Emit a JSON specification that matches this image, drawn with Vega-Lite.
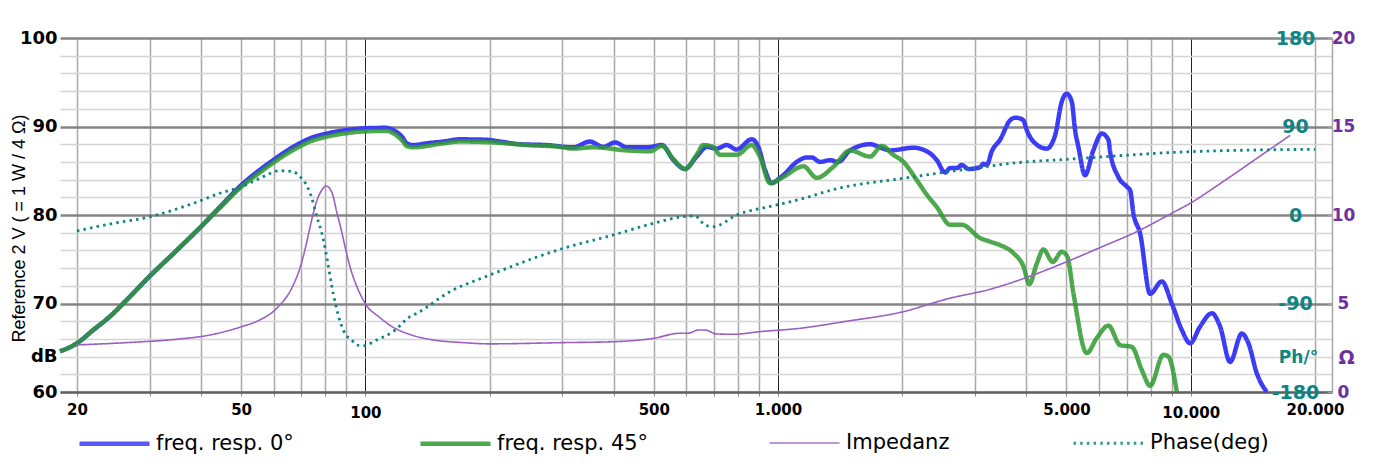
{
  "$schema": "https://vega.github.io/schema/vega-lite/v6.json",
  "width": 1272,
  "height": 354,
  "autosize": {"type": "none"},
  "padding": {"left": 60, "top": 38, "right": 49, "bottom": 74},
  "background": "white",
  "config": {"view": {"stroke": null}, "font": "DejaVu Sans"},
  "datasets": {
    "fr0": [
      {"f": 18.2, "v": 64.6}, {"f": 20, "v": 65.5}, {"f": 21.9, "v": 67.0}, {"f": 24, "v": 68.5},
      {"f": 26.4, "v": 70.4}, {"f": 29.9, "v": 73.0}, {"f": 34.9, "v": 76.0}, {"f": 40, "v": 78.7},
      {"f": 44.4, "v": 80.9}, {"f": 50.1, "v": 83.4}, {"f": 55.5, "v": 85.1}, {"f": 59.8, "v": 86.2},
      {"f": 66.9, "v": 87.7}, {"f": 74.8, "v": 88.8}, {"f": 80.6, "v": 89.2}, {"f": 90.1, "v": 89.6},
      {"f": 99.9, "v": 89.8}, {"f": 112.6, "v": 89.85}, {"f": 116.7, "v": 89.6}, {"f": 123.4, "v": 88.7},
      {"f": 125.9, "v": 88.1}, {"f": 130.7, "v": 87.9}, {"f": 140.8, "v": 88.1}, {"f": 154.5, "v": 88.3},
      {"f": 169.6, "v": 88.55}, {"f": 196.8, "v": 88.5}, {"f": 212, "v": 88.3}, {"f": 237, "v": 88.0},
      {"f": 275, "v": 87.9}, {"f": 319, "v": 87.65}, {"f": 350, "v": 88.3}, {"f": 377, "v": 87.7},
      {"f": 403, "v": 88.2}, {"f": 430, "v": 87.65}, {"f": 481, "v": 87.65}, {"f": 523, "v": 87.9},
      {"f": 558, "v": 86.2}, {"f": 595, "v": 85.2}, {"f": 635, "v": 86.6}, {"f": 672, "v": 87.7},
      {"f": 710, "v": 87.5}, {"f": 751, "v": 87.9}, {"f": 794, "v": 87.4}, {"f": 863, "v": 88.55},
      {"f": 896, "v": 87.7}, {"f": 930, "v": 85.1}, {"f": 965, "v": 83.6}, {"f": 1011, "v": 84.2},
      {"f": 1030, "v": 84.5}, {"f": 1110, "v": 86.0}, {"f": 1174, "v": 86.5}, {"f": 1207, "v": 86.5},
      {"f": 1264, "v": 86.0}, {"f": 1337, "v": 86.2}, {"f": 1400, "v": 86.0}, {"f": 1495, "v": 87.3},
      {"f": 1671, "v": 88.0}, {"f": 1800, "v": 87.5}, {"f": 1868, "v": 87.3}, {"f": 2128, "v": 87.6},
      {"f": 2293, "v": 87.2}, {"f": 2425, "v": 86.2}, {"f": 2540, "v": 84.8}, {"f": 2612, "v": 85.3},
      {"f": 2712, "v": 85.3}, {"f": 2788, "v": 85.65}, {"f": 2892, "v": 85.2}, {"f": 3088, "v": 85.4},
      {"f": 3146, "v": 85.8}, {"f": 3206, "v": 85.65}, {"f": 3296, "v": 87.2}, {"f": 3452, "v": 88.5},
      {"f": 3650, "v": 90.7}, {"f": 3754, "v": 91.0}, {"f": 3860, "v": 90.9}, {"f": 3932, "v": 90.7},
      {"f": 4006, "v": 89.6}, {"f": 4156, "v": 88.3}, {"f": 4480, "v": 87.5}, {"f": 4692, "v": 89.0},
      {"f": 4870, "v": 92.8}, {"f": 5008, "v": 93.7}, {"f": 5150, "v": 92.8}, {"f": 5246, "v": 89.6},
      {"f": 5344, "v": 87.7}, {"f": 5546, "v": 84.5}, {"f": 5808, "v": 87.3}, {"f": 6088, "v": 89.2},
      {"f": 6318, "v": 88.5}, {"f": 6378, "v": 87.2}, {"f": 6680, "v": 84.3}, {"f": 7002, "v": 83.2},
      {"f": 7132, "v": 82.8}, {"f": 7264, "v": 80.2}, {"f": 7542, "v": 77.9}, {"f": 7974, "v": 71.1},
      {"f": 8512, "v": 72.5}, {"f": 9000, "v": 70.0}, {"f": 9518, "v": 67.0}, {"f": 9968, "v": 65.5},
      {"f": 10540, "v": 67.4}, {"f": 11250, "v": 68.9}, {"f": 11782, "v": 67.4}, {"f": 12458, "v": 63.4},
      {"f": 13302, "v": 66.6}, {"f": 13802, "v": 65.5}, {"f": 14464, "v": 62.1}, {"f": 15292, "v": 60.0}
    ],
    "fr45": [
      {"f": 18.2, "v": 64.6}, {"f": 20, "v": 65.5}, {"f": 21.9, "v": 67.0}, {"f": 24, "v": 68.5},
      {"f": 26.4, "v": 70.4}, {"f": 29.9, "v": 73.0}, {"f": 34.9, "v": 76.0}, {"f": 40, "v": 78.7},
      {"f": 44.4, "v": 80.8}, {"f": 50.1, "v": 83.2}, {"f": 55.5, "v": 84.8}, {"f": 59.8, "v": 85.9},
      {"f": 66.9, "v": 87.35}, {"f": 74.8, "v": 88.45}, {"f": 80.6, "v": 88.85}, {"f": 90.1, "v": 89.25},
      {"f": 99.9, "v": 89.45}, {"f": 112.6, "v": 89.5}, {"f": 116.7, "v": 89.25}, {"f": 123.4, "v": 88.3},
      {"f": 125.9, "v": 87.8}, {"f": 130.7, "v": 87.65}, {"f": 154.5, "v": 88.1}, {"f": 169.6, "v": 88.3},
      {"f": 204, "v": 88.2}, {"f": 246, "v": 87.9}, {"f": 296, "v": 87.7}, {"f": 319, "v": 87.5},
      {"f": 357, "v": 87.65}, {"f": 430, "v": 87.3}, {"f": 490, "v": 87.2}, {"f": 523, "v": 87.8},
      {"f": 558, "v": 86.3}, {"f": 595, "v": 85.2}, {"f": 635, "v": 86.8}, {"f": 659, "v": 87.9},
      {"f": 697, "v": 87.7}, {"f": 723, "v": 86.8}, {"f": 794, "v": 86.8}, {"f": 863, "v": 87.9},
      {"f": 904, "v": 86.6}, {"f": 956, "v": 83.6}, {"f": 1030, "v": 84.3}, {"f": 1152, "v": 85.5},
      {"f": 1241, "v": 84.2}, {"f": 1362, "v": 85.45}, {"f": 1495, "v": 87.3}, {"f": 1671, "v": 86.6},
      {"f": 1784, "v": 87.8}, {"f": 1903, "v": 86.8}, {"f": 2013, "v": 86.0}, {"f": 2168, "v": 83.95},
      {"f": 2293, "v": 82.3}, {"f": 2425, "v": 80.9}, {"f": 2612, "v": 78.9}, {"f": 2788, "v": 78.9},
      {"f": 3088, "v": 77.4}, {"f": 3260, "v": 77.0}, {"f": 3452, "v": 76.6}, {"f": 3718, "v": 75.7},
      {"f": 3932, "v": 74.2}, {"f": 4064, "v": 72.2}, {"f": 4236, "v": 74.5}, {"f": 4396, "v": 76.1},
      {"f": 4632, "v": 74.7}, {"f": 4870, "v": 75.85}, {"f": 5024, "v": 75.3}, {"f": 5196, "v": 71.2},
      {"f": 5598, "v": 64.4}, {"f": 5920, "v": 66.1}, {"f": 6318, "v": 67.5}, {"f": 6744, "v": 65.3},
      {"f": 7200, "v": 65.1}, {"f": 7612, "v": 62.5}, {"f": 7974, "v": 60.7}, {"f": 8588, "v": 64.2},
      {"f": 8830, "v": 64.0}, {"f": 9256, "v": 60.0}
    ],
    "imp": [
      {"f": 20, "v": 2.66}, {"f": 26.4, "v": 2.79}, {"f": 34.9, "v": 2.98}, {"f": 42, "v": 3.22},
      {"f": 50.1, "v": 3.69}, {"f": 55.5, "v": 4.07}, {"f": 61, "v": 4.73}, {"f": 66.9, "v": 6.05},
      {"f": 69.4, "v": 6.99}, {"f": 70.7, "v": 7.65}, {"f": 74.8, "v": 10.1}, {"f": 75.5, "v": 10.47},
      {"f": 78.4, "v": 11.4}, {"f": 80.3, "v": 11.64}, {"f": 82.9, "v": 11.3}, {"f": 85.2, "v": 10.2},
      {"f": 86.8, "v": 9.45}, {"f": 91.8, "v": 7.08}, {"f": 99.9, "v": 5.01}, {"f": 108.5, "v": 4.2},
      {"f": 116.9, "v": 3.65}, {"f": 128.3, "v": 3.25}, {"f": 146.1, "v": 2.94}, {"f": 170, "v": 2.8},
      {"f": 200.5, "v": 2.72}, {"f": 301.8, "v": 2.79}, {"f": 398.8, "v": 2.84}, {"f": 498.6, "v": 3.03},
      {"f": 578.8, "v": 3.32}, {"f": 606, "v": 3.32}, {"f": 641, "v": 3.5}, {"f": 665, "v": 3.5},
      {"f": 710, "v": 3.28}, {"f": 779, "v": 3.26}, {"f": 904, "v": 3.41}, {"f": 1131, "v": 3.6},
      {"f": 1460, "v": 3.99}, {"f": 1980, "v": 4.5}, {"f": 2612, "v": 5.3}, {"f": 3260, "v": 5.8},
      {"f": 3870, "v": 6.35}, {"f": 5008, "v": 7.36}, {"f": 6088, "v": 8.2}, {"f": 7404, "v": 9.06},
      {"f": 9000, "v": 10.1}, {"f": 9968, "v": 10.66}, {"f": 12002, "v": 11.9}, {"f": 13626, "v": 12.78},
      {"f": 14464, "v": 13.2}, {"f": 17418, "v": 14.5}
    ],
    "ph": [
      {"f": 20, "v": -16.3}, {"f": 24, "v": -9.2}, {"f": 30.1, "v": -1.7}, {"f": 38.3, "v": 11.9},
      {"f": 44.4, "v": 22.1}, {"f": 50.1, "v": 28.8}, {"f": 55.5, "v": 37.3}, {"f": 62.1, "v": 45.0},
      {"f": 66.9, "v": 44.0}, {"f": 69.4, "v": 39}, {"f": 70.7, "v": 35.6}, {"f": 74.8, "v": 11.9},
      {"f": 75.5, "v": 5.1}, {"f": 79.5, "v": -29}, {"f": 80.6, "v": -42.4}, {"f": 83.6, "v": -80},
      {"f": 88.4, "v": -117}, {"f": 93.5, "v": -128.9}, {"f": 95.3, "v": -132.2}, {"f": 98.9, "v": -133},
      {"f": 106.5, "v": -127.1}, {"f": 116.9, "v": -118.5}, {"f": 128.3, "v": -103.4}, {"f": 133.2, "v": -100},
      {"f": 160.3, "v": -78}, {"f": 200.5, "v": -61}, {"f": 255.2, "v": -44.1}, {"f": 301.8, "v": -33.9},
      {"f": 398.8, "v": -20.3}, {"f": 498.6, "v": -8.5}, {"f": 589.6, "v": -1.7}, {"f": 629.2, "v": -1.0},
      {"f": 665.4, "v": -10.2}, {"f": 697, "v": -11.9}, {"f": 794.2, "v": 0}, {"f": 992.6, "v": 10.2},
      {"f": 1131, "v": 16}, {"f": 1400, "v": 27.1}, {"f": 2013, "v": 37.3}, {"f": 3088, "v": 48.5},
      {"f": 3800, "v": 53.2}, {"f": 5008, "v": 56.6}, {"f": 9968, "v": 64.4}, {"f": 20020, "v": 66.8}
    ]
  },
  "encoding": {
    "x": {
      "field": "f",
      "type": "quantitative",
      "scale": {"type": "log", "domain": [18.2, 22000], "nice": false},
      "axis": {
        "title": null,
        "values": [20, 30, 40, 50, 60, 70, 80, 90, 100, 200, 300, 400, 500, 600, 700, 800, 900, 1000, 2000, 3000, 4000, 5000, 6000, 7000, 8000, 9000, 10000, 20000],
        "labelExpr": "indexof([20, 50, 100, 500, 1000, 5000, 10000, 20000], datum.value) >= 0 ? (datum.value >= 1000 ? replace(format(datum.value, ','), ',', '.') : format(datum.value, 'd')) : ''",
        "labelFont": "DejaVu Sans",
        "labelFontWeight": "bold",
        "labelFontSize": 15,
        "labelColor": "#000000",
        "labelOverlap": false,
        "labelFlush": false,
        "labelPadding": {"condition": {"test": "datum.value == 100 || datum.value == 10000", "value": 9}, "value": 6},
        "grid": true,
        "gridColor": {"condition": {"test": "datum.value == 100 || datum.value == 1000 || datum.value == 10000", "value": "#222222"}, "value": "#a8a8a8"},
        "gridWidth": {"condition": {"test": "datum.value == 100 || datum.value == 1000 || datum.value == 10000", "value": 1}, "value": 1.5},
        "ticks": true,
        "tickSize": 4,
        "tickColor": "#8a8a8a",
        "tickWidth": 1,
        "domain": true,
        "domainColor": "#606060",
        "domainWidth": 2
      }
    },
    "color": {
      "field": "series",
      "type": "nominal",
      "scale": {
        "domain": ["freq. resp. 0°", "freq. resp. 45°", "Impedanz", "Phase(deg)"],
        "range": ["#3c3cf5", "#2f9a2f", "#9a5fc2", "#0e8585"]
      },
      "legend": {
        "orient": "none",
        "legendX": 17,
        "legendY": 368,
        "direction": "horizontal",
        "columns": 4,
        "title": null,
        "padding": 0,
        "symbolType": "stroke",
        "symbolSize": 4900,
        "labelFont": "DejaVu Sans",
        "labelFontSize": 21,
        "labelColor": "#000000",
        "labelOffset": 4,
        "columnPadding": 117,
        "labelLimit": 400
      }
    },
    "strokeDash": {
      "field": "series",
      "type": "nominal",
      "scale": {
        "domain": ["freq. resp. 0°", "freq. resp. 45°", "Impedanz", "Phase(deg)"],
        "range": [[1, 0], [1, 0], [1, 0], [2.5, 4.2]]
      }
    },
    "strokeWidth": {
      "field": "series",
      "type": "nominal",
      "scale": {
        "type": "ordinal",
        "domain": ["freq. resp. 0°", "freq. resp. 45°", "Impedanz", "Phase(deg)"],
        "range": [4.5, 4.5, 1.6, 2.8]
      }
    }
  },
  "layer": [
    {
      "data": {"name": "fr0"},
      "transform": [{"calculate": "'freq. resp. 0°'", "as": "series"}],
      "mark": {"type": "line", "interpolate": "monotone"},
      "encoding": {
        "y": {
          "field": "v",
          "type": "quantitative",
          "scale": {"domain": [60, 100], "nice": false, "zero": false},
          "axis": {
            "orient": "left",
            "values": [60, 62, 64, 66, 68, 70, 72, 74, 76, 78, 80, 82, 84, 86, 88, 90, 92, 94, 96, 98, 100],
            "labelExpr": "datum.value % 10 == 0 ? format(datum.value, 'd') : (datum.value == 64 ? 'dB' : '')",
            "labelFont": "DejaVu Sans",
            "labelFontWeight": "bold",
            "labelFontSize": 18,
            "labelColor": "#000000",
            "labelPadding": 3,
            "labelOverlap": false,
            "labelFlush": false,
            "ticks": false,
            "domain": false,
            "grid": true,
            "gridColor": {"condition": {"test": "datum.value % 10 == 0", "value": "#858585"}, "value": "#d4d4d4"},
            "gridWidth": {"condition": {"test": "datum.value % 10 == 0", "value": 2.4}, "value": 1.4},
            "title": "Reference 2 V ( = 1 W / 4 Ω)",
            "titleFont": "Liberation Sans",
            "titleFontWeight": "normal",
            "titleFontSize": 18,
            "titleColor": "#000000",
            "titleAngle": -90,
            "titleX": -41,
            "titleY": 190,
            "titleAlign": "center",
            "titleBaseline": "middle"
          }
        }
      }
    },
    {
      "data": {"name": "fr45"},
      "transform": [{"calculate": "'freq. resp. 45°'", "as": "series"}],
      "mark": {"type": "line", "interpolate": "monotone", "opacity": 0.85},
      "encoding": {
        "y": {
          "field": "v",
          "type": "quantitative",
          "scale": {"domain": [60, 100], "nice": false, "zero": false},
          "axis": null
        }
      }
    },
    {
      "data": {"name": "imp"},
      "transform": [{"calculate": "'Impedanz'", "as": "series"}],
      "mark": {"type": "line", "interpolate": "monotone"},
      "encoding": {
        "y": {
          "field": "v",
          "type": "quantitative",
          "scale": {"domain": [0, 20], "nice": false, "zero": false},
          "axis": {
            "orient": "right",
            "values": [0, 5, 10, 15, 20],
            "labelFont": "DejaVu Sans",
            "labelFontWeight": "bold",
            "labelFontSize": 17,
            "labelColor": "#7030a0",
            "labelAlign": "center",
            "labelPadding": 16,
            "labelOverlap": false,
            "labelFlush": false,
            "ticks": true,
            "tickSize": -5,
            "tickColor": "#a0a0a0",
            "domain": true,
            "domainColor": "#a8a8a8",
            "domainWidth": 1.5,
            "grid": false,
            "title": "Ω",
            "titleFont": "DejaVu Sans",
            "titleFontWeight": "bold",
            "titleFontSize": 19,
            "titleColor": "#7030a0",
            "titleAngle": 0,
            "titleX": 14,
            "titleY": 319,
            "titleAlign": "center",
            "titleBaseline": "middle"
          }
        }
      }
    },
    {
      "data": {"name": "ph"},
      "transform": [{"calculate": "'Phase(deg)'", "as": "series"}],
      "mark": {"type": "line", "interpolate": "monotone"},
      "encoding": {
        "y": {
          "field": "v",
          "type": "quantitative",
          "scale": {"domain": [-180, 180], "nice": false, "zero": false},
          "axis": {
            "orient": "right",
            "values": [-180, -90, 0, 90, 180],
            "labelExpr": "datum.value < 0 ? '-' + format(-datum.value, 'd') : format(datum.value, 'd')",
            "labelFont": "DejaVu Sans",
            "labelFontWeight": "bold",
            "labelFontSize": 19,
            "labelColor": "#0e8585",
            "labelAlign": "center",
            "labelPadding": -37,
            "labelOverlap": false,
            "labelFlush": false,
            "ticks": false,
            "tickSize": 0,
            "domain": false,
            "grid": false,
            "title": "Ph/°",
            "titleFont": "DejaVu Sans",
            "titleFontWeight": "bold",
            "titleFontSize": 17,
            "titleColor": "#0e8585",
            "titleAngle": 0,
            "titleX": -34,
            "titleY": 319,
            "titleAlign": "center",
            "titleBaseline": "middle"
          }
        }
      }
    }
  ],
  "resolve": {"scale": {"y": "independent"}, "axis": {"y": "independent"}}
}
